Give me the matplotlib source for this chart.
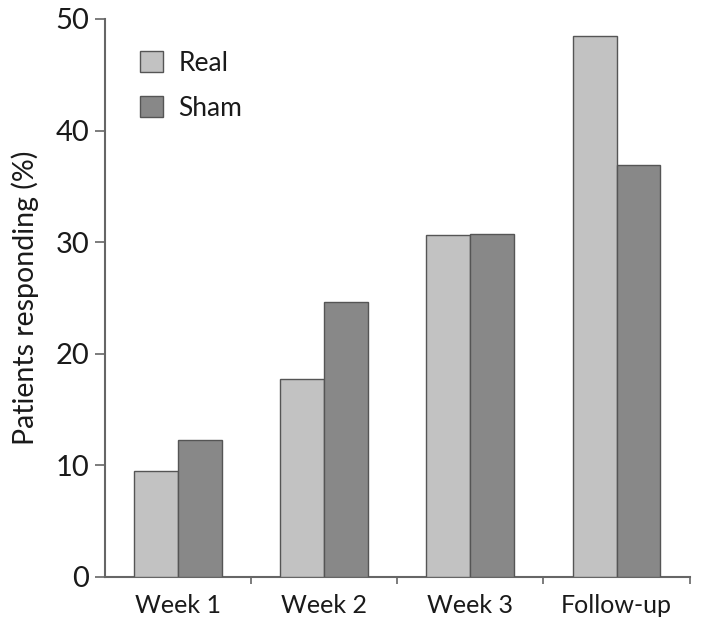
import matplotlib
matplotlib.use("Agg")
import matplotlib.pyplot as plt
import numpy as np

# Data
periods = ["Week 1", "Week 2", "Week 3", "Follow-up"]
real = [9.5, 17.7, 30.6, 48.5]
sham = [12.3, 24.6, 30.7, 36.9]
y_ticks = [0, 10, 20, 30, 40, 50]

plt.rcParams["font.family"] = ["Lato", "DejaVu Sans"]

AXIS_COL = "#666666"
TEXT_COL = "#1a1a1a"

fig = plt.figure(figsize=(7.03, 6.33), dpi=100)
ax = fig.add_axes([0.149, 0.0885, 0.832, 0.8815])

x = np.arange(len(periods)) + 0.5
w = 0.3
ax.bar(x - w / 2, real, width=w, color="#c2c2c2", edgecolor="#555555",
       linewidth=1.0, label="Real", zorder=3)
ax.bar(x + w / 2, sham, width=w, color="#888888", edgecolor="#555555",
       linewidth=1.0, label="Sham", zorder=3)

ax.set_xlim(0, len(periods))
ax.set_ylim(0, 50)

# boundary ticks between groups, labels at group centres
ax.set_xticks(np.arange(1, len(periods) + 1))
ax.set_xticklabels([])
ax.set_xticks(x, minor=True)
ax.set_xticklabels(periods, minor=True, fontsize=18, color=TEXT_COL)
ax.tick_params(axis="x", which="minor", length=0, pad=12)
ax.tick_params(axis="x", which="major", length=5, width=1.2, color=AXIS_COL,
               direction="out")

ax.set_yticks(y_ticks)
ax.set_yticklabels([str(t) for t in y_ticks], fontsize=21, color=TEXT_COL)
ax.tick_params(axis="y", length=7, width=1.2, color=AXIS_COL, pad=4)

ax.set_ylabel("Patients responding (%)", fontsize=20.5, color=TEXT_COL,
              labelpad=12)

for s in ["top", "right"]:
    ax.spines[s].set_visible(False)
for s in ["left", "bottom"]:
    ax.spines[s].set_color(AXIS_COL)
    ax.spines[s].set_linewidth(1.5)

leg = ax.legend(loc="upper left", bbox_to_anchor=(0.02, 0.985), frameon=False,
                fontsize=19, handlelength=0.85, handleheight=0.85,
                handletextpad=0.6, labelspacing=0.75)
for t in leg.get_texts():
    t.set_color(TEXT_COL)

fig.savefig("out.png", dpi=100, facecolor="white")
